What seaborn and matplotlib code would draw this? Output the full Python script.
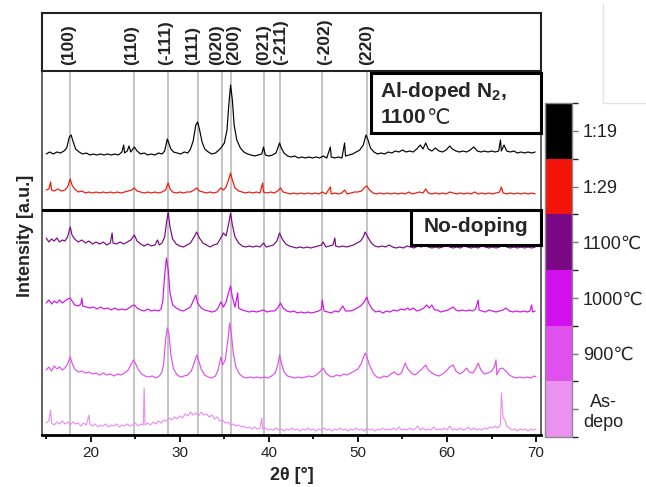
import numpy as np
import pandas as pd
import matplotlib
matplotlib.use("Agg")
import matplotlib.pyplot as plt
from matplotlib.colors import ListedColormap, BoundaryNorm
from matplotlib.cm import ScalarMappable
from matplotlib.patches import Rectangle
from matplotlib.lines import Line2D
import seaborn as sns

# ---------------- data ----------------
peak_labels = ["(100)", "(110)", "(-111)", "(111)", "(020)", "(200)", "(021)", "(-211)", "(-202)", "(220)"]
peak_lines = [17.7, 24.9, 28.7, 32.0, 34.7, 35.7, 39.4, 41.3, 46.0, 51.0]
peak_label_x = [17.5, 24.6, 28.4, 31.4, 34.1, 36.0, 39.4, 41.3, 46.3, 51.0]

series_names = ["1:19", "1:29", "1100\u2103", "1000\u2103", "900\u2103", "As-\ndepo"]
series_colors = ["#000000", "#f21408", "#7a0885", "#d210ee", "#e050ef", "#e992f0"]

black_pts = [(15.0, 281), (15.4, 283), (15.8, 281), (16.2, 283), (16.6, 282), (17.0, 284), (17.3, 287), (17.6, 298),
             (17.8, 300), (18.0, 294), (18.3, 286), (18.7, 283), (19.1, 281), (19.5, 282), (19.9, 280), (20.3, 281),
             (20.7, 280), (21.1, 281), (21.5, 280), (21.9, 281), (22.3, 280), (22.7, 281), (23.1, 280), (23.5, 283),
             (23.7, 290), (23.8, 282), (24.1, 284), (24.3, 289), (24.5, 283), (24.9, 288), (25.2, 284), (25.6, 281),
             (26.0, 282), (26.4, 280), (26.8, 281), (27.2, 280), (27.6, 282), (28.0, 281), (28.3, 284), (28.6, 296),
             (28.8, 291), (29.0, 286), (29.3, 283), (29.7, 282), (30.1, 281), (30.5, 283), (30.9, 282), (31.2, 286),
             (31.5, 294), (31.8, 310), (32.0, 313), (32.2, 306), (32.5, 293), (32.8, 286), (33.2, 283), (33.6, 281),
             (34.0, 282), (34.4, 285), (34.7, 288), (35.0, 292), (35.3, 305), (35.5, 330), (35.7, 350), (35.9, 335),
             (36.1, 310), (36.4, 295), (36.8, 287), (37.2, 283), (37.6, 281), (38.0, 280), (38.4, 279), (38.8, 280),
             (39.2, 281), (39.4, 288), (39.6, 280), (40.0, 279), (40.4, 280), (40.8, 282), (41.2, 292), (41.4, 287),
             (41.7, 282), (42.1, 279), (42.5, 278), (42.9, 279), (43.3, 277), (43.7, 278), (44.1, 277), (44.5, 278),
             (44.9, 277), (45.3, 278), (45.7, 277), (46.1, 279), (46.5, 277), (46.9, 288), (47.0, 278), (47.4, 277),
             (47.8, 278), (48.2, 277), (48.5, 292), (48.6, 279), (49.0, 280), (49.4, 281), (49.8, 283), (50.2, 285),
             (50.6, 290), (50.9, 300), (51.1, 296), (51.4, 287), (51.8, 283), (52.2, 281), (52.6, 282), (53.0, 281),
             (53.4, 283), (53.8, 282), (54.2, 284), (54.6, 283), (55.0, 285), (55.4, 283), (55.8, 284), (56.2, 283),
             (56.6, 286), (57.0, 290), (57.3, 286), (57.6, 292), (57.9, 286), (58.3, 284), (58.7, 287), (59.1, 284),
             (59.5, 283), (59.9, 285), (60.3, 289), (60.6, 286), (61.0, 284), (61.4, 283), (61.8, 284), (62.2, 283),
             (62.6, 285), (63.0, 288), (63.4, 284), (63.8, 283), (64.2, 284), (64.6, 283), (65.0, 284), (65.4, 283),
             (65.8, 284), (66.0, 295), (66.1, 284), (66.4, 290), (66.7, 284), (67.1, 283), (67.5, 284), (67.9, 282),
             (68.3, 283), (68.7, 282), (69.1, 283), (69.5, 282), (69.9, 283)]

red_pts = [(15.0, 245), (15.3, 246), (15.5, 253), (15.6, 245), (15.9, 244), (16.3, 246), (16.7, 244), (17.1, 245),
           (17.4, 248), (17.7, 256), (17.9, 250), (18.2, 246), (18.6, 243), (19.0, 244), (19.4, 242), (19.8, 243),
           (20.2, 242), (20.6, 243), (21.0, 242), (21.4, 243), (21.8, 242), (22.2, 243), (22.6, 242), (23.0, 243),
           (23.4, 242), (23.8, 243), (24.2, 244), (24.6, 245), (24.9, 247), (25.2, 244), (25.6, 243), (26.0, 242),
           (26.4, 243), (26.8, 242), (27.2, 243), (27.6, 242), (28.0, 243), (28.4, 245), (28.7, 252), (28.9, 246),
           (29.2, 243), (29.6, 242), (30.0, 243), (30.4, 242), (30.8, 243), (31.2, 243), (31.6, 245), (31.9, 247),
           (32.2, 244), (32.6, 243), (33.0, 242), (33.4, 243), (33.8, 242), (34.2, 243), (34.6, 247), (34.9, 245),
           (35.2, 248), (35.5, 256), (35.7, 262), (35.9, 255), (36.2, 247), (36.6, 244), (37.0, 243), (37.4, 242),
           (37.8, 243), (38.2, 242), (38.6, 243), (39.0, 242), (39.3, 252), (39.4, 243), (39.8, 242), (40.2, 243),
           (40.6, 242), (41.0, 244), (41.3, 247), (41.6, 243), (42.0, 242), (42.4, 241), (42.8, 242), (43.2, 241),
           (43.6, 242), (44.0, 241), (44.4, 242), (44.8, 241), (45.2, 242), (45.6, 241), (46.0, 243), (46.4, 241),
           (46.9, 248), (47.0, 241), (47.4, 242), (47.8, 241), (48.2, 242), (48.5, 245), (48.8, 241), (49.2, 242),
           (49.6, 243), (50.0, 243), (50.4, 244), (50.8, 248), (51.0, 249), (51.3, 245), (51.7, 242), (52.1, 241),
           (52.5, 242), (52.9, 241), (53.3, 242), (53.7, 241), (54.1, 242), (54.5, 241), (54.9, 242), (55.3, 241),
           (55.7, 243), (56.1, 241), (56.5, 242), (56.9, 243), (57.3, 242), (57.6, 246), (57.9, 242), (58.3, 241),
           (58.7, 242), (59.1, 241), (59.5, 242), (59.9, 241), (60.3, 243), (60.7, 242), (61.1, 241), (61.5, 242),
           (61.9, 241), (62.3, 242), (62.7, 241), (63.1, 243), (63.5, 241), (63.9, 242), (64.3, 241), (64.7, 242),
           (65.1, 241), (65.5, 242), (65.9, 243), (66.1, 248), (66.3, 242), (66.7, 241), (67.1, 242), (67.5, 241),
           (67.9, 242), (68.3, 241), (68.7, 242), (69.1, 241), (69.5, 242), (69.9, 241)]

purple_pts = [(15.0, 197), (15.3, 193), (15.6, 196), (15.9, 194), (16.2, 197), (16.5, 193), (16.8, 195), (17.1, 194),
              (17.4, 198), (17.7, 208), (17.9, 200), (18.2, 196), (18.6, 193), (19.0, 195), (19.4, 192), (19.8, 194),
              (20.2, 191), (20.6, 193), (21.0, 191), (21.4, 193), (21.8, 190), (22.2, 192), (22.4, 202), (22.5, 192),
              (22.9, 191), (23.3, 193), (23.7, 191), (24.1, 193), (24.5, 195), (24.9, 200), (25.2, 194), (25.6, 191),
              (26.0, 189), (26.4, 191), (26.8, 189), (27.2, 190), (27.5, 195), (27.7, 190), (28.0, 192), (28.3, 198),
              (28.5, 212), (28.7, 223), (28.9, 208), (29.2, 196), (29.6, 191), (30.0, 189), (30.4, 188), (30.8, 190),
              (31.2, 192), (31.6, 198), (31.9, 203), (32.2, 197), (32.6, 192), (33.0, 190), (33.4, 188), (33.8, 190),
              (34.2, 191), (34.6, 197), (34.9, 202), (35.2, 199), (35.5, 212), (35.7, 222), (35.9, 210), (36.2, 198),
              (36.6, 192), (37.0, 189), (37.4, 188), (37.8, 189), (38.2, 188), (38.6, 189), (39.0, 188), (39.4, 192),
              (39.7, 188), (40.1, 189), (40.5, 190), (40.9, 194), (41.2, 202), (41.5, 196), (41.9, 191), (42.3, 189),
              (42.7, 188), (43.1, 187), (43.5, 188), (43.9, 187), (44.3, 188), (44.7, 187), (45.1, 188), (45.5, 189),
              (45.9, 190), (46.1, 193), (46.4, 188), (46.8, 189), (47.2, 190), (47.4, 197), (47.5, 189), (47.9, 188),
              (48.3, 189), (48.7, 188), (49.1, 189), (49.5, 190), (49.9, 192), (50.3, 194), (50.6, 198), (50.8, 203),
              (51.1, 198), (51.5, 192), (51.9, 189), (52.3, 188), (52.7, 189), (53.1, 188), (53.5, 190), (53.9, 188),
              (54.3, 187), (54.7, 188), (55.1, 187), (55.5, 189), (55.9, 188), (56.3, 187), (56.7, 189), (57.1, 188),
              (57.5, 190), (57.9, 188), (58.3, 187), (58.7, 188), (59.1, 187), (59.5, 188), (59.9, 190), (60.3, 188),
              (60.7, 187), (61.1, 188), (61.5, 187), (61.9, 189), (62.3, 188), (62.7, 187), (63.1, 188), (63.5, 187),
              (63.9, 189), (64.3, 188), (64.7, 187), (65.1, 188), (65.5, 187), (65.9, 188), (66.3, 190), (66.7, 188),
              (67.1, 187), (67.5, 188), (67.9, 187), (68.3, 188), (68.7, 187), (69.1, 188), (69.5, 187), (69.9, 188)]

magenta_pts = [(15.0, 132), (15.3, 135), (15.6, 131), (15.9, 134), (16.2, 132), (16.5, 135), (16.8, 132), (17.1, 134),
               (17.4, 136), (17.7, 137), (17.9, 134), (18.2, 130), (18.6, 129), (18.9, 131), (19.0, 137), (19.1, 129),
               (19.5, 128), (19.9, 127), (20.3, 128), (20.7, 126), (21.1, 128), (21.5, 126), (21.9, 127), (22.3, 125),
               (22.7, 127), (23.1, 125), (23.5, 126), (23.9, 125), (24.3, 127), (24.6, 129), (24.9, 130), (25.2, 127),
               (25.6, 125), (26.0, 124), (26.4, 126), (26.8, 124), (27.2, 125), (27.6, 124), (27.9, 126), (28.1, 135),
               (28.3, 160), (28.5, 177), (28.7, 165), (28.9, 142), (29.2, 130), (29.6, 127), (30.0, 125), (30.4, 124),
               (30.8, 126), (31.2, 128), (31.5, 134), (31.8, 140), (32.0, 132), (32.4, 127), (32.8, 125), (33.2, 124),
               (33.6, 123), (34.0, 124), (34.3, 127), (34.6, 133), (34.9, 128), (35.2, 133), (35.5, 143), (35.7, 149),
               (35.9, 138), (36.2, 128), (36.5, 142), (36.6, 127), (37.0, 125), (37.4, 124), (37.8, 123), (38.2, 124),
               (38.6, 123), (39.0, 124), (39.4, 125), (39.8, 123), (40.2, 124), (40.6, 124), (41.0, 127), (41.3, 132),
               (41.6, 127), (42.0, 124), (42.4, 123), (42.8, 124), (43.2, 122), (43.6, 123), (44.0, 122), (44.4, 123),
               (44.8, 122), (45.2, 123), (45.6, 124), (45.9, 126), (46.0, 135), (46.2, 124), (46.6, 123), (47.0, 122),
               (47.4, 124), (47.8, 123), (48.0, 125), (48.3, 129), (48.6, 124), (49.1, 124), (49.5, 125), (49.9, 127),
               (50.3, 129), (50.7, 133), (51.0, 138), (51.2, 132), (51.6, 126), (52.0, 123), (52.4, 124), (52.8, 122),
               (53.2, 124), (53.6, 123), (54.0, 125), (54.4, 124), (54.8, 126), (55.2, 125), (55.6, 127), (55.8, 125),
               (56.2, 127), (56.6, 124), (57.0, 125), (57.4, 127), (57.7, 130), (58.0, 127), (58.3, 130), (58.6, 125),
               (58.9, 125), (59.3, 123), (59.7, 124), (60.1, 125), (60.5, 127), (60.7, 128), (61.0, 125), (61.3, 124),
               (61.7, 125), (62.1, 124), (62.5, 125), (62.9, 124), (63.2, 126), (63.5, 135), (63.6, 125), (63.9, 124),
               (64.3, 123), (64.7, 125), (65.1, 124), (65.5, 123), (65.9, 124), (66.3, 125), (66.6, 127), (67.0, 124),
               (67.4, 123), (67.8, 124), (68.2, 123), (68.6, 124), (69.0, 123), (69.3, 124), (69.5, 130), (69.6, 123),
               (69.9, 124)]

violet_pts = [(15.0, 65), (15.3, 68), (15.6, 64), (15.9, 69), (16.2, 66), (16.5, 68), (16.8, 65), (17.1, 67),
              (17.4, 71), (17.7, 78), (17.9, 72), (18.2, 66), (18.6, 63), (19.0, 64), (19.4, 62), (19.8, 63),
              (20.2, 61), (20.6, 62), (21.0, 60), (21.4, 62), (21.8, 60), (22.2, 61), (22.6, 59), (23.0, 61),
              (23.4, 60), (23.8, 62), (24.2, 65), (24.5, 70), (24.8, 75), (25.0, 72), (25.3, 66), (25.7, 61),
              (26.1, 59), (26.5, 58), (26.9, 59), (27.3, 57), (27.7, 59), (28.0, 63), (28.2, 72), (28.4, 95),
              (28.6, 107), (28.8, 100), (29.0, 80), (29.3, 66), (29.7, 60), (30.1, 58), (30.5, 59), (30.9, 60),
              (31.3, 64), (31.6, 72), (31.9, 80), (32.1, 75), (32.4, 66), (32.8, 60), (33.2, 58), (33.6, 57),
              (34.0, 59), (34.3, 65), (34.6, 78), (34.8, 70), (35.1, 75), (35.4, 95), (35.6, 112), (35.8, 100),
              (36.0, 82), (36.3, 68), (36.7, 61), (37.1, 58), (37.5, 57), (37.9, 58), (38.3, 57), (38.7, 58),
              (39.1, 57), (39.5, 58), (39.9, 57), (40.3, 59), (40.7, 62), (41.0, 70), (41.2, 80), (41.4, 72),
              (41.7, 63), (42.1, 59), (42.5, 58), (42.9, 57), (43.3, 58), (43.7, 57), (44.1, 58), (44.5, 59),
              (44.9, 58), (45.3, 60), (45.7, 63), (46.1, 67), (46.4, 62), (46.8, 59), (47.2, 58), (47.6, 60),
              (48.0, 59), (48.4, 61), (48.8, 60), (49.2, 62), (49.6, 64), (50.0, 66), (50.4, 72), (50.8, 82),
              (51.0, 78), (51.3, 70), (51.7, 62), (52.1, 58), (52.5, 57), (52.9, 59), (53.3, 58), (53.7, 61),
              (54.1, 63), (54.5, 60), (54.9, 62), (55.3, 72), (55.6, 66), (56.0, 62), (56.4, 60), (56.8, 63),
              (57.2, 66), (57.6, 70), (57.9, 65), (58.3, 62), (58.7, 60), (59.1, 59), (59.5, 61), (59.9, 64),
              (60.3, 68), (60.7, 70), (61.0, 64), (61.4, 61), (61.8, 63), (62.2, 67), (62.5, 63), (62.9, 62),
              (63.2, 66), (63.5, 72), (63.8, 65), (64.2, 61), (64.6, 62), (65.0, 64), (65.3, 68), (65.5, 75),
              (65.6, 60), (65.9, 66), (66.2, 67), (66.6, 64), (67.0, 60), (67.4, 58), (67.8, 57), (68.2, 58),
              (68.6, 57), (69.0, 58), (69.4, 57), (69.8, 59), (70.0, 58)]

asdepo_pts = [(15.0, 12), (15.3, 14), (15.5, 25), (15.6, 12), (15.9, 10), (16.2, 13), (16.5, 11), (16.8, 14),
              (17.1, 11), (17.4, 13), (17.7, 10), (18.0, 13), (18.3, 11), (18.6, 12), (18.9, 9), (19.2, 12),
              (19.5, 10), (19.8, 20), (19.9, 11), (20.2, 9), (20.5, 11), (20.8, 8), (21.1, 10), (21.4, 9),
              (21.7, 11), (22.0, 8), (22.3, 10), (22.6, 9), (22.9, 11), (23.2, 8), (23.5, 10), (23.8, 9),
              (24.1, 11), (24.4, 9), (24.7, 10), (25.0, 12), (25.3, 9), (25.6, 11), (25.9, 10), (26.0, 47),
              (26.1, 10), (26.4, 12), (26.7, 10), (27.0, 13), (27.3, 11), (27.6, 14), (27.9, 12), (28.2, 15),
              (28.5, 14), (28.8, 17), (29.1, 15), (29.4, 18), (29.7, 16), (30.0, 19), (30.3, 17), (30.6, 21),
              (30.9, 19), (31.2, 23), (31.5, 20), (31.8, 22), (32.1, 19), (32.4, 23), (32.7, 20), (33.0, 21),
              (33.3, 18), (33.6, 20), (33.9, 16), (34.2, 18), (34.5, 14), (34.8, 15), (35.1, 12), (35.4, 13),
              (35.7, 10), (36.0, 11), (36.3, 9), (36.6, 10), (36.9, 8), (37.2, 9), (37.5, 7), (37.8, 8),
              (38.1, 6), (38.4, 8), (38.7, 6), (39.0, 7), (39.2, 17), (39.3, 6), (39.6, 7), (39.9, 5),
              (40.2, 6), (40.5, 5), (40.8, 7), (41.1, 5), (41.4, 6), (41.7, 4), (42.0, 6), (42.3, 5),
              (42.6, 7), (42.9, 5), (43.2, 6), (43.5, 4), (43.8, 6), (44.1, 5), (44.4, 7), (44.7, 5),
              (45.0, 6), (45.3, 4), (45.6, 6), (45.9, 5), (46.2, 7), (46.5, 5), (46.8, 6), (47.1, 4),
              (47.4, 6), (47.7, 5), (48.0, 7), (48.3, 5), (48.6, 6), (48.9, 4), (49.2, 6), (49.5, 5),
              (49.8, 7), (50.1, 5), (50.4, 6), (50.7, 4), (51.0, 7), (51.3, 5), (51.6, 6), (51.9, 4),
              (52.2, 6), (52.5, 5), (52.8, 7), (53.1, 5), (53.4, 6), (53.7, 5), (54.0, 7), (54.3, 5),
              (54.6, 8), (54.9, 5), (55.2, 6), (55.5, 5), (55.8, 7), (56.1, 5), (56.4, 6), (56.7, 9),
              (57.0, 5), (57.3, 7), (57.6, 5), (57.9, 6), (58.2, 5), (58.5, 8), (58.8, 5), (59.1, 6),
              (59.4, 5), (59.7, 7), (60.0, 5), (60.3, 9), (60.6, 5), (60.9, 6), (61.2, 5), (61.5, 7),
              (61.8, 5), (62.1, 6), (62.4, 8), (62.7, 5), (63.0, 7), (63.3, 5), (63.6, 6), (63.9, 5),
              (64.2, 7), (64.5, 6), (64.8, 8), (65.1, 7), (65.4, 9), (65.7, 7), (66.0, 10), (66.1, 42),
              (66.2, 30), (66.3, 17), (66.5, 15), (66.7, 9), (67.0, 7), (67.3, 5), (67.6, 6), (67.9, 4),
              (68.2, 6), (68.5, 5), (68.8, 6), (69.1, 4), (69.4, 6), (69.7, 5), (70.0, 6)]

series_pts = [black_pts, red_pts, purple_pts, magenta_pts, violet_pts, asdepo_pts]

x_ticks = [20, 30, 40, 50, 60, 70]
x_minor = [15, 25, 35, 45, 55, 65]
divider_level = 225.5

# ---------------- style ----------------
sns.set_theme(style="white")
plt.rcParams["font.family"] = ["Liberation Sans", "DejaVu Sans"]
plt.rcParams["mathtext.fontset"] = "custom"
plt.rcParams["mathtext.bf"] = "Liberation Sans:bold"
plt.rcParams["mathtext.rm"] = "Liberation Sans"

W, H = 646, 487
fig = plt.figure(figsize=(W / 100, H / 100), dpi=100)
fig.patch.set_facecolor("white")

def fx(px):
    return px / W

def fy(py):
    return 1 - py / H

L, R, T, B = 42, 541, 71, 435
ax = fig.add_axes([fx(L), fy(B), fx(R - L), fy(T) - fy(B)])
axt = fig.add_axes([fx(L), fy(T), fx(R - L), fy(13) - fy(T)])

XL = (14.53, 70.55)

# reference lines
for xv in peak_lines:
    ax.axvline(xv, color="#c4c4c4", lw=1.4, zorder=1)

# traces
frames = []
for name, pts in zip(series_names, series_pts):
    d = pd.DataFrame(pts, columns=["two_theta", "intensity"])
    d["sample"] = name
    frames.append(d)
df = pd.concat(frames, ignore_index=True)
for name, col in zip(series_names, series_colors):
    sub = df[df["sample"] == name]
    sns.lineplot(data=sub, x="two_theta", y="intensity", ax=ax, color=col, lw=0.85,
                 estimator=None, sort=False, zorder=3)

ax.axhline(divider_level, color="black", lw=2.2, zorder=4)

ax.set_xlim(*XL)
ax.set_ylim(0, 364)
ax.set_xlabel("")
ax.set_ylabel("")
ax.set_yticks([])
ax.set_xticks(x_ticks)
ax.set_xticks(x_minor, minor=True)
ax.set_xticklabels([str(v) for v in x_ticks], fontsize=11, color="#222222")
ax.tick_params(axis="x", which="major", direction="out", length=5, width=1.3, color="black", pad=3, bottom=True)
ax.tick_params(axis="x", which="minor", direction="out", length=3, width=1.3, color="black", bottom=True)
for s in ["left", "right"]:
    ax.spines[s].set_color("#555555")
    ax.spines[s].set_linewidth(1.3)
ax.spines["bottom"].set_color("black")
ax.spines["bottom"].set_linewidth(2.0)
ax.spines["top"].set_visible(False)

# legend boxes
ax.add_patch(Rectangle((0.659, 0.830), 0.341, 0.165, transform=ax.transAxes, facecolor="white",
                       edgecolor="black", lw=2.2, zorder=6, clip_on=False))
ax.text(0.678, 0.944, r"Al-doped N$_\mathbf{2}$,", transform=ax.transAxes, fontsize=15,
        fontweight="bold", ha="left", va="center", zorder=7)
t1100 = ax.text(0.678, 0.871, "1100", transform=ax.transAxes, fontsize=15,
                fontweight="bold", ha="left", va="center", zorder=7)
ax.annotate("\u2103", xy=(1.0, 0.5), xycoords=t1100, ha="left", va="center", fontsize=15,
            fontweight="normal", family=["DejaVu Sans"], zorder=7)
ax.add_patch(Rectangle((0.739, 0.522), 0.261, 0.096, transform=ax.transAxes, facecolor="white",
                       edgecolor="black", lw=2.2, zorder=6, clip_on=False))
ax.text(0.87, 0.572, "No-doping", transform=ax.transAxes, fontsize=15,
        fontweight="bold", ha="center", va="center", zorder=7)

# top label strip
axt.set_xlim(*XL)
axt.set_ylim(0, 1)
axt.set_xticks([])
axt.set_yticks([])
for s in axt.spines.values():
    s.set_color("#222222")
    s.set_linewidth(1.5)
for lab, xv in zip(peak_labels, peak_label_x):
    axt.text(xv, 0.1, lab, rotation=90, ha="center", va="bottom", fontsize=12.5,
             fontweight="bold", color="#222222")

# colour bar
cax = fig.add_axes([fx(545), fy(437), fx(27), fy(103) - fy(437)])
cmap = ListedColormap(series_colors[::-1])
norm = BoundaryNorm(np.arange(0, 7), cmap.N)
cb = fig.colorbar(ScalarMappable(norm=norm, cmap=cmap), cax=cax)
cb.set_ticks(np.arange(6) + 0.5)
cb.set_ticklabels(series_names[::-1])
cb.outline.set_edgecolor("#8a8a8a")
cb.outline.set_linewidth(1.0)
cax.tick_params(axis="y", length=4, width=1, color="#777777", labelsize=13, labelcolor="#222222", pad=4)
for t in cax.get_yticklabels():
    t.set_multialignment("center")

# axis titles
fig.text(fx(25), fy(236), "Intensity [a.u.]", rotation=90, ha="center", va="center",
         fontsize=13, fontweight="bold")
fig.text(fx(292), fy(476), "2\u03b8 [\u00b0]", ha="center", va="center", fontsize=13, fontweight="bold")

# faint frame in the top-right corner
fig.add_artist(Line2D([fx(603), fx(603)], [fy(4), fy(103)], color="#e4e4e4", lw=1))
fig.add_artist(Line2D([fx(603), fx(646)], [fy(103), fy(103)], color="#e4e4e4", lw=1))

fig.savefig("out.png", dpi=100, facecolor="white")
